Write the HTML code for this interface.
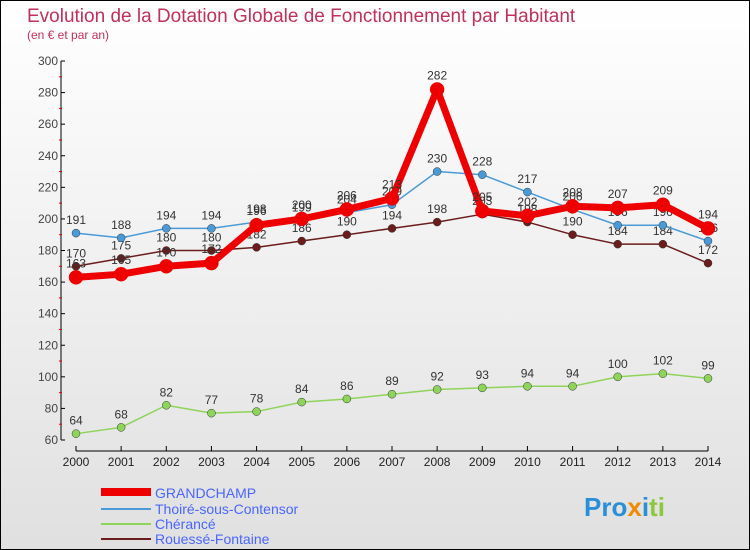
<!DOCTYPE html>
<html><head><meta charset="utf-8"><style>
body{margin:0}
#c{width:750px;height:550px;position:relative;box-sizing:border-box;border:1px solid #000;background:linear-gradient(#fff,#e0e0e0);font-family:"Liberation Sans",sans-serif;overflow:hidden}
</style></head><body>
<div id="c">
<svg id="s" width="748" height="548" xmlns="http://www.w3.org/2000/svg">
<text x="26" y="21" font-size="19" fill="#c0305a">Evolution de la Dotation Globale de Fonctionnement par Habitant</text>
<text x="26" y="38" font-size="12" fill="#c0305a">(en € et par an)</text>
<g id="axes"></g><g id="series"></g>
<g>
<line x1="100" y1="491" x2="150" y2="491" stroke="#e00" stroke-width="8"/>
<text x="154" y="497" font-size="14" fill="#4a66ff">GRANDCHAMP</text>
<line x1="100" y1="508" x2="150" y2="508" stroke="#4a9ad8" stroke-width="2"/>
<text x="154" y="513" font-size="14" fill="#4a66ff">Thoiré-sous-Contensor</text>
<line x1="100" y1="523" x2="150" y2="523" stroke="#8ed45a" stroke-width="2"/>
<text x="154" y="528" font-size="14" fill="#4a66ff">Chérancé</text>
<line x1="100" y1="538" x2="150" y2="538" stroke="#6b1c1c" stroke-width="2"/>
<text x="154" y="543" font-size="14" fill="#4a66ff">Rouessé-Fontaine</text>
</g>
<text x="583" y="515" font-size="26" font-weight="bold"><tspan fill="#2a8fd8">Pro</tspan><tspan fill="#f08a00">x</tspan><tspan fill="#2a8fd8">i</tspan><tspan fill="#8cc83c">ti</tspan></text>
</svg></div>
<script>
const years=[2000,2001,2002,2003,2004,2005,2006,2007,2008,2009,2010,2011,2012,2013,2014];
const grandchamp=[163,165,170,172,196,200,206,213,282,205,202,208,207,209,194];
const thoire=[191,188,194,194,198,199,204,209,230,228,217,206,196,196,186];
const cherance=[64,68,82,77,78,84,86,89,92,93,94,94,100,102,99];
const rouesse=[170,175,180,180,182,186,190,194,198,203,198,190,184,184,172];
const yTicks=[60,80,100,120,140,160,180,200,220,240,260,280,300];
const NS="http://www.w3.org/2000/svg";
const X=i=>75+i*(632/14), Y=v=>439-(v-60)*(379/240);
function el(t,a,p){const e=document.createElementNS(NS,t);for(const k in a)e.setAttribute(k,a[k]);p.appendChild(e);return e;}
const ax=document.getElementById('axes'), sg=document.getElementById('series');
let l=el('line',{x1:60,y1:60,x2:60,y2:439,stroke:'#000'},ax);


l=el('line',{x1:75,y1:450,x2:707,y2:450,stroke:'#000'},ax);


yTicks.forEach(v=>{el('line',{x1:60,y1:Y(v),x2:64,y2:Y(v),stroke:'#000'},ax);
 if(v<300) el('line',{x1:58,y1:Y(v+10),x2:61,y2:Y(v+10),stroke:'#e00'},ax);
 const t=el('text',{x:57,y:Y(v)+4,'font-size':12,fill:'#444','text-anchor':'end'},ax);t.textContent=v;
 
 });
years.forEach((y,i)=>{el('line',{x1:X(i),y1:445,x2:X(i),y2:450,stroke:'#000'},ax);
 const t=el('text',{x:X(i),y:465,'font-size':12,fill:'#222','text-anchor':'middle'},ax);t.textContent=y;
 
 });
function series(d,col,w,r,name,lab){
 const p=el('polyline',{points:d.map((v,i)=>X(i)+','+Y(v)).join(' '),fill:'none',stroke:col,'stroke-width':w,'stroke-linejoin':'round'},sg);
 
 
 d.forEach((v,i)=>{const c=el('circle',{cx:X(i),cy:Y(v),r:r,fill:col,stroke:w>3?col:'#333','stroke-width':0.5},sg);
  
  
  const t=el('text',{x:X(i),y:Y(v)+lab,'font-size':12,fill:'#333','text-anchor':'middle'},sg);t.textContent=v;
  
  });
}
series(rouesse,'#6b1c1c',1.5,4,'rouesse',-9);
series(cherance,'#8ed45a',1.5,4,'cherance',-9);
series(thoire,'#4a9ad8',1.5,4,'thoire',-9);
series(grandchamp,'#e00',7,7,'grandchamp',-10);
</script></body></html>
